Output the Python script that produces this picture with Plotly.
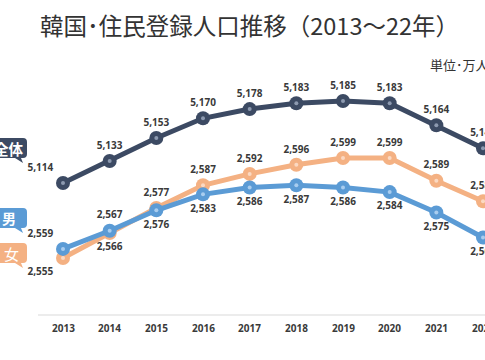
import plotly.graph_objects as go

years = [2013, 2014, 2015, 2016, 2017, 2018, 2019, 2020, 2021, 2022]
total = [5114, 5133, 5153, 5170, 5178, 5183, 5185, 5183, 5164, 5144]
male = [2559, 2567, 2576, 2583, 2586, 2587, 2586, 2584, 2575, 2564]
female = [2555, 2566, 2577, 2587, 2592, 2596, 2599, 2599, 2589, 2580]
tick_labels = [str(y) for y in years]

W, H = 485, 360
PB = 315  # plot bottom pixel

C_TOTAL = "#3c4a63"
C_MALE = "#5b9bd5"
C_FEMALE = "#f4b183"
C_TEXT = "#3a3a3a"

def fmt(v):
    return f"{v:,}"

fig = go.Figure()

def add_series(vals, color, inner, textpos, yaxis):
    fig.add_trace(go.Scatter(
        x=years, y=vals, mode="lines+markers+text", yaxis=yaxis,
        line=dict(color=color, width=5),
        marker=dict(size=14, color=color),
        text=[fmt(v) for v in vals], textposition=textpos,
        textfont=dict(family="Open Sans", size=10, color=C_TEXT, weight="bold"),
        cliponaxis=False, showlegend=False, hoverinfo="skip"))
    fig.add_trace(go.Scatter(
        x=years, y=vals, mode="markers", yaxis=yaxis,
        marker=dict(size=4, color=inner),
        showlegend=False, hoverinfo="skip"))

add_series(total, C_TOTAL, "#8d9ab0", ["top left"] + ["top center"] * 9, "y")
add_series(female, C_FEMALE, "#fbd9c2",
           ["bottom left", "bottom center"] + ["top center"] * 8, "y2")
add_series(male, C_MALE, "#a9cdef",
           ["top left", "top center"] + ["bottom center"] * 8, "y2")

# axis ranges from pixel calibration
px_per_unit_t = 82 / 71
px_per_unit_s = 100 / 44
y_range = [5114 - (PB - 183) / px_per_unit_t, 5114 + 183 / px_per_unit_t]
y2_range = [2555 - (PB - 258) / px_per_unit_s, 2555 + 258 / px_per_unit_s]
px_per_year = 420 / 9
x_range = [2013 - 63 / px_per_year, 2013 + (W - 63) / px_per_year]

def px(x):
    return x / W

def py(y):
    return (PB - y) / PB

shapes = [dict(type="line", xref="paper", yref="paper", x0=px(38), x1=1, y0=0, y1=0,
               line=dict(color="#e6e6e6", width=1.5))]

def bubble(top, bottom, color):
    r = 4
    L, R = -10, 27
    path = (f"M {px(L)},{py(top)} L {px(R - r)},{py(top)} "
            f"Q {px(R)},{py(top)} {px(R)},{py(top + r)} "
            f"L {px(R)},{py(bottom - r)} Q {px(R)},{py(bottom)} {px(R - r)},{py(bottom)} "
            f"L {px(21)},{py(bottom)} L {px(23)},{py(bottom + 5)} L {px(15)},{py(bottom)} "
            f"L {px(L)},{py(bottom)} Z")
    return dict(type="path", xref="paper", yref="paper", path=path,
                fillcolor=color, line=dict(width=0), layer="above")

shapes += [bubble(138, 158, C_TOTAL), bubble(208, 228, C_MALE), bubble(243, 263, C_FEMALE)]

annotations = [
    dict(text="韓国･住民登録人口推移（2013～22年）", xref="paper", yref="paper",
         x=px(250), y=py(25), xanchor="center", yanchor="middle", showarrow=False,
         font=dict(family="Noto Sans CJK JP", size=23.5, color="#333333")),
    dict(text="単位･万人", xref="paper", yref="paper", x=px(428), y=py(64),
         xanchor="left", yanchor="middle", showarrow=False,
         font=dict(family="Noto Sans CJK JP", size=13, color="#333333")),
    dict(text="<b>全体</b>", xref="paper", yref="paper", x=px(26), y=py(148),
         xanchor="right", yanchor="middle", showarrow=False,
         font=dict(family="Noto Sans CJK JP", size=14.5, color="white")),
    dict(text="<b>男</b>", xref="paper", yref="paper", x=px(18), y=py(218),
         xanchor="right", yanchor="middle", showarrow=False,
         font=dict(family="Noto Sans CJK JP", size=14, color="white")),
    dict(text="女", xref="paper", yref="paper", x=px(21), y=py(253),
         xanchor="right", yanchor="middle", showarrow=False,
         font=dict(family="Noto Sans CJK JP", size=15, color="white")),
]

# year labels placed on the x axis scale
for yr, lab in zip(years, tick_labels):
    annotations.append(dict(
        text=lab, xref="x", yref="paper", x=yr, y=py(328),
        xanchor="center", yanchor="middle", showarrow=False,
        font=dict(family="Open Sans", size=10, color=C_TEXT, weight="bold")))

fig.update_layout(
    width=W, height=H,
    margin=dict(l=0, r=0, t=0, b=H - PB),
    paper_bgcolor="white", plot_bgcolor="white",
    xaxis=dict(range=x_range, showticklabels=False,
               showgrid=False, zeroline=False, showline=False, ticks="",
               fixedrange=True),
    yaxis=dict(range=y_range, visible=False, fixedrange=True),
    yaxis2=dict(range=y2_range, visible=False, overlaying="y", fixedrange=True),
    shapes=shapes, annotations=annotations,
)

fig.write_html(
    "out.html",
    config={"displayModeBar": False},
    post_script="document.body.style.margin='0';document.body.style.overflow='hidden';",
)
